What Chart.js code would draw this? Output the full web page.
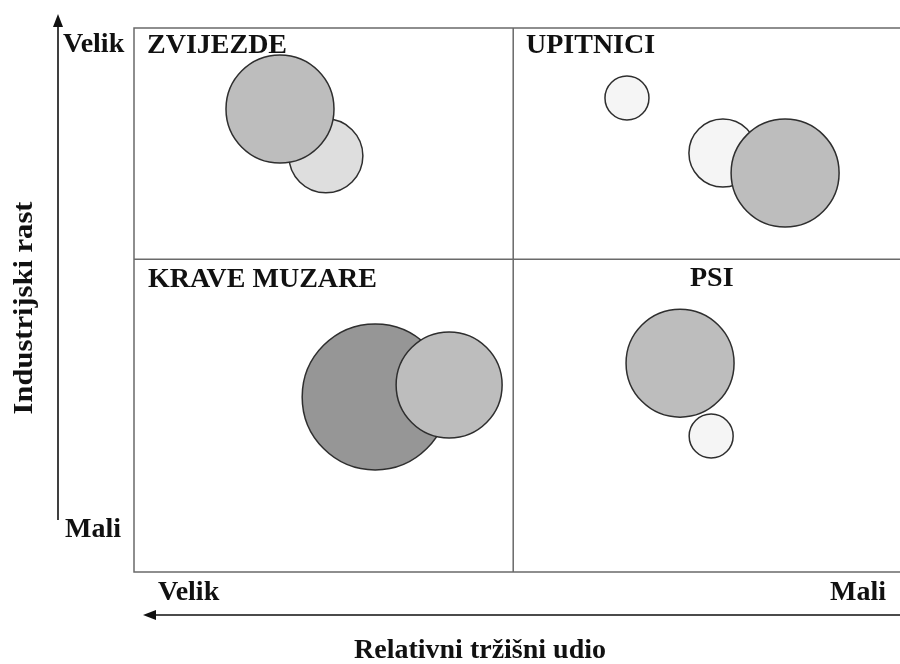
<!DOCTYPE html>
<html>
<head>
<meta charset="utf-8">
<script src="https://cdn.jsdelivr.net/npm/chart.js@4.4.1/dist/chart.umd.min.js"></script>
<style>
  html, body { margin: 0; padding: 0; background: #fff; }
</style>
</head>
<body>
<canvas id="bcg" width="900" height="664"></canvas>
<script>
// BCG matrica - data
const quadrantOfBubble = ["ZVIJEZDE", "ZVIJEZDE", "UPITNICI", "UPITNICI", "UPITNICI", "KRAVE MUZARE", "KRAVE MUZARE", "PSI", "PSI"];
const marketShare = [1.494, 1.615, 0.700, 0.447, 0.283, 1.364, 1.169, 0.560, 0.478];
const industryGrowth = [13.31, 14.81, 15.16, 13.40, 12.76, 5.60, 5.98, 6.68, 4.35];
const bubbleSize = [37, 54, 22, 34, 54, 73, 53, 54, 22];
const bubbleFill = ["#dedede", "#bdbdbd", "#f5f5f5", "#f5f5f5", "#bdbdbd", "#969696", "#bdbdbd", "#bdbdbd", "#f5f5f5"];

const shareMid = 1.0;     // granica velik / mali udio
const growthMid = 10;     // granica velik / mali rast
const shareRange = [-0.02, 2];
const growthRange = [0, 17.4];

const FONT = "bold 28px 'Liberation Serif', 'Times New Roman', serif";

const matrixPlugin = {
  id: "matrix",
  beforeDatasetsDraw(chart) {
    const { ctx, chartArea, scales } = chart;
    const xm = scales.x.getPixelForValue(shareMid);
    const ym = scales.y.getPixelForValue(growthMid);
    ctx.save();
    ctx.strokeStyle = "#6a6a6a";
    ctx.lineWidth = 1.5;
    ctx.beginPath();
    ctx.moveTo(chartArea.right, chartArea.top);
    ctx.lineTo(chartArea.left, chartArea.top);
    ctx.lineTo(chartArea.left, chartArea.bottom);
    ctx.lineTo(chartArea.right, chartArea.bottom);
    ctx.moveTo(xm, chartArea.top);
    ctx.lineTo(xm, chartArea.bottom);
    ctx.moveTo(chartArea.left, ym);
    ctx.lineTo(chartArea.right, ym);
    ctx.stroke();
    ctx.restore();
  },
  afterDraw(chart) {
    const { ctx } = chart;
    ctx.save();
    ctx.fillStyle = "#111";
    ctx.strokeStyle = "#111";
    ctx.font = FONT;
    ctx.textBaseline = "alphabetic";

    // quadrant names
    ctx.textAlign = "left";
    ctx.fillText("ZVIJEZDE", 147, 53);
    ctx.fillText("UPITNICI", 526, 53);
    ctx.fillText("KRAVE MUZARE", 148, 287);
    ctx.fillText("PSI", 690, 286);

    // axis ends
    ctx.fillText("Velik", 63, 52);
    ctx.fillText("Mali", 65, 537);
    ctx.fillText("Velik", 158, 600);
    ctx.textAlign = "right";
    ctx.fillText("Mali", 886, 600);

    // axis titles
    ctx.textAlign = "center";
    ctx.fillText("Relativni tržišni udio", 480, 658);
    ctx.save();
    ctx.translate(32, 308);
    ctx.rotate(-Math.PI / 2);
    ctx.scale(1.09, 1);
    ctx.fillText("Industrijski rast", 0, 0);
    ctx.restore();

    // arrows
    ctx.lineWidth = 1.6;
    ctx.beginPath();
    ctx.moveTo(58, 520);
    ctx.lineTo(58, 22);
    ctx.moveTo(chart.width, 615);
    ctx.lineTo(150, 615);
    ctx.stroke();
    ctx.beginPath();
    ctx.moveTo(58, 14);
    ctx.lineTo(53, 27);
    ctx.lineTo(63, 27);
    ctx.closePath();
    ctx.fill();
    ctx.beginPath();
    ctx.moveTo(143, 615);
    ctx.lineTo(156, 610);
    ctx.lineTo(156, 620);
    ctx.closePath();
    ctx.fill();
    ctx.restore();
  }
};

const points = marketShare.map((s, i) => ({ x: s, y: industryGrowth[i], r: bubbleSize[i] }));

new Chart(document.getElementById("bcg").getContext("2d"), {
  type: "bubble",
  data: {
    labels: quadrantOfBubble,
    datasets: [
      {
        label: "BCG",
        data: points,
        backgroundColor: bubbleFill,
        borderColor: "#2e2e2e",
        borderWidth: 1.5,
        hoverRadius: 0,
        clip: false,
      },
    ],
  },
  options: {
    responsive: false,
    animation: false,
    devicePixelRatio: 1,
    events: [],
    layout: { autoPadding: false, padding: { left: 134, top: 28, right: 0, bottom: 92 } },
    scales: {
      x: { type: "linear", reverse: true, min: shareRange[0], max: shareRange[1], display: false },
      y: { type: "linear", min: growthRange[0], max: growthRange[1], display: false },
    },
    plugins: {
      legend: { display: false },
      tooltip: { enabled: false },
    },
  },
  plugins: [matrixPlugin],
});
</script>
</body>
</html>
